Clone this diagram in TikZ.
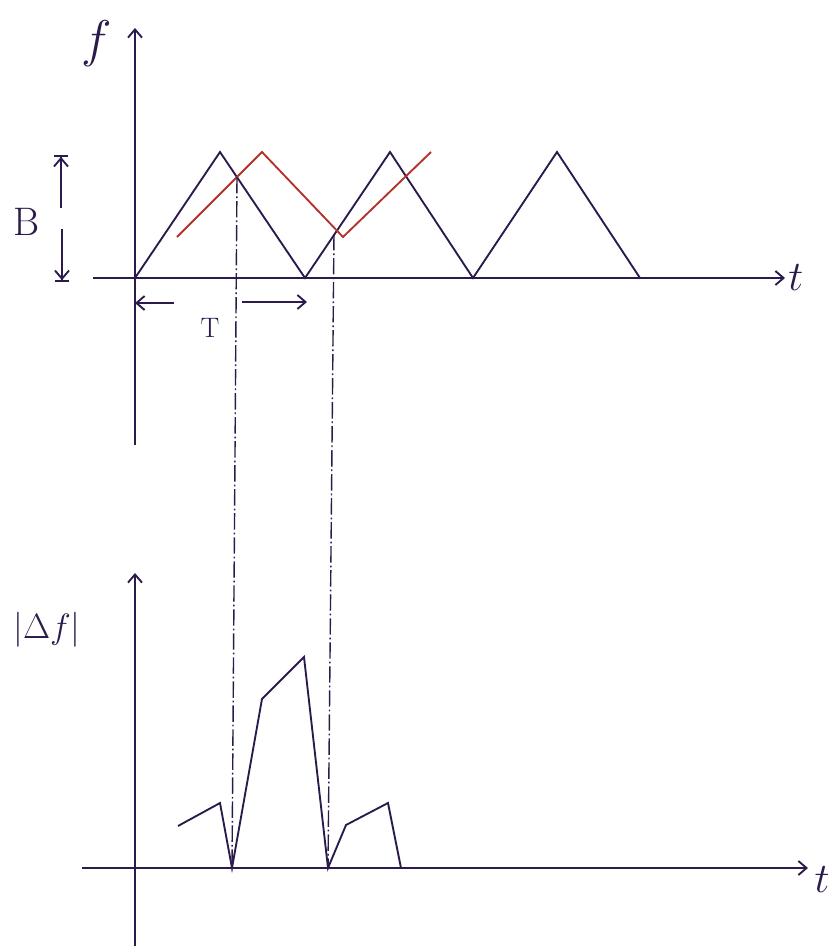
\RequirePackage{fix-cm}
\documentclass[tikz,border=0pt]{standalone}
\usepackage{amsmath, amssymb}
\usepackage{tikz}
\usetikzlibrary{arrows.meta, calc}
\definecolor{ink}{HTML}{2B1B4C}
\definecolor{redink}{HTML}{B3322B}

\begin{document}
\begin{tikzpicture}[x=0.03cm, y=-0.03cm, line width=1.6pt, draw=ink, text=ink,
    >={Straight Barb[length=7pt, width=12pt]},
    guide/.style={line width=1.2pt, dash pattern=on 14pt off 2.5pt on 1.5pt off 2.5pt}]
    \useasboundingbox (0, 0) rectangle (836, 946);

    % Upper axes
    \coordinate (O1) at (135, 278);
    \draw[->] (135, 445) -- (135, 28) coordinate (ftop);
    \draw[->] (93, 278) -- (785, 278) coordinate (tend);
    \node[font=\fontsize{44}{44}\selectfont] (flabel) at (97, 44) {$f$};
    \node[font=\fontsize{36}{36}\selectfont, right, inner sep=2pt] (tlabel) at (tend) {$t$};

    % Transmitted sweep
    \draw (O1) -- (220, 152) -- (305, 278) -- (390, 152) -- (473, 278)
          -- (557, 152) -- (640, 278);

    % Received sweep
    \draw[redink] (177, 237) -- (262, 152) -- (343, 237) -- (431, 152);

    % Bandwidth
    \node[font=\fontsize{34}{34}\selectfont] (Blabel) at (27, 222) {B};
    \draw[-{Straight Barb[length=7pt, width=12pt] Bar[width=12pt]}] (61, 208) -- (61, 155);
    \draw[-{Straight Barb[length=7pt, width=12pt] Bar[width=12pt]}] (62, 229) -- (62, 282);

    % Period
    \node[font=\fontsize{24}{24}\selectfont] (Tlabel) at (210, 328) {T};
    \draw[->] (174, 303) -- (135, 303);
    \draw[->] (242, 302) -- (307, 302);

    % Lower axes
    \coordinate (O2) at (135, 868);
    \draw[->] (135, 946) -- (135, 573);
    \draw[->] (82, 868) -- (808, 868);
    \node[font=\fontsize{30}{30}\selectfont] (dflabel) at (47, 630) {$|\Delta f|$};
    \node[font=\fontsize{36}{36}\selectfont] (t2label) at (822, 880) {$t$};

    % Beat frequency
    \draw (178, 826) -- (220, 803) -- (232, 868) -- (262, 699) -- (304, 657)
          -- (328, 868) -- (346, 825) -- (388, 803) -- (401, 868);

    % Crossing points projected down
    \draw[guide] (237, 177) -- (232, 868);
    \draw[guide] (334, 234) -- (328, 868);
\end{tikzpicture}
\end{document}
